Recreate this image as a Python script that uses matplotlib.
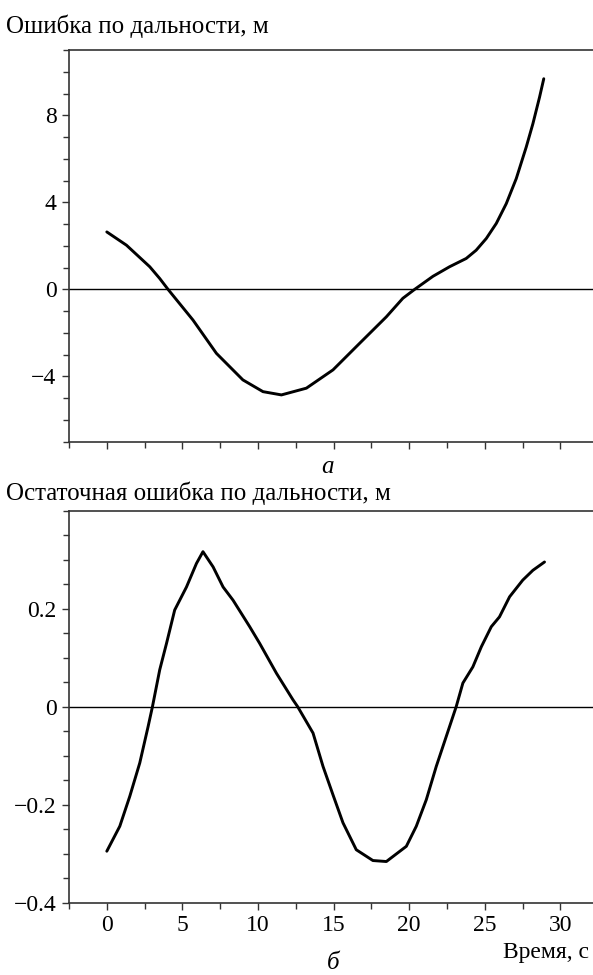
import matplotlib
matplotlib.use("Agg")
import matplotlib.pyplot as plt
from matplotlib.ticker import MultipleLocator

# Range error (top panel, "а")
t_range = [0.0, 1.30, 2.84, 3.50, 4.05, 5.70, 7.25, 9.00, 10.33, 11.55, 13.20,
           14.96, 16.72, 18.49, 19.58, 20.36, 21.57, 22.67, 23.77, 24.43, 25.10,
           25.76, 26.42, 27.08, 27.74, 28.18, 28.62, 28.90]
err_range = [2.64, 2.03, 1.04, 0.50, 0.0, -1.41, -2.94, -4.16, -4.70, -4.85, -4.54,
             -3.70, -2.48, -1.26, -0.41, 0.0, 0.60, 1.04, 1.42, 1.80, 2.34,
             3.03, 3.94, 5.09, 6.54, 7.61, 8.83, 9.68]

# Residual range error (bottom panel, "б")
t_resid = [0.0, 0.86, 1.52, 2.18, 2.73, 3.02, 3.50, 3.95, 4.49, 5.27, 5.93, 6.36,
           7.03, 7.69, 8.35, 9.45, 10.11, 11.22, 12.31, 12.62, 13.64, 14.30, 14.96,
           15.62, 16.50, 17.60, 18.49, 19.81, 20.47, 21.13, 21.79, 22.45, 23.11,
           23.55, 24.21, 24.77, 25.43, 25.97, 26.64, 27.51, 28.18, 28.95]
err_resid = [-0.295, -0.244, -0.183, -0.115, -0.041, 0.0, 0.075, 0.129, 0.197, 0.244,
             0.292, 0.316, 0.285, 0.244, 0.217, 0.163, 0.129, 0.068, 0.014, 0.0,
             -0.054, -0.122, -0.180, -0.237, -0.292, -0.314, -0.316, -0.285, -0.244,
             -0.190, -0.122, -0.061, 0.0, 0.048, 0.081, 0.122, 0.163, 0.183, 0.224,
             0.258, 0.278, 0.295]

x_ticks = [0, 5, 10, 15, 20, 25, 30]
top_yticks = [-4, 0, 4, 8]
top_ylabels = ["\u22124", "0", "4", "8"]
bot_yticks = [-0.4, -0.2, 0, 0.2]
bot_ylabels = ["\u22120.4", "\u22120.2", "0", "0.2"]

plt.rcParams['font.family'] = ['Liberation Serif', 'DejaVu Serif']
fs = 17
fs_text = 18

fig = plt.figure(figsize=(5.93, 9.75), dpi=100)
W, H = 593.0, 975.0

ax1 = fig.add_axes([69 / W, (H - 441.7) / H, 567 / W, (441.7 - 50) / H])
ax2 = fig.add_axes([69 / W, (H - 902.7) / H, 567 / W, (902.7 - 510.5) / H])

for ax in (ax1, ax2):
    ax.set_xlim(-2.5, 35)
    ax.spines['right'].set_visible(False)
    for s in ('left', 'bottom', 'top'):
        ax.spines[s].set_color('#333333')
        ax.spines[s].set_linewidth(1.2)
    ax.axhline(0, color='black', lw=1.0)
    ax.set_xticks(x_ticks)
    ax.xaxis.set_minor_locator(MultipleLocator(2.5))
    ax.tick_params(which='both', direction='out', color='#333333', width=1.0,
                   labelsize=fs, pad=4, top=False, right=False)
    ax.tick_params(which='major', length=5)
    ax.tick_params(which='minor', length=4)

ax1.plot(t_range, err_range, color='black', lw=2.1,
         solid_capstyle='round', solid_joinstyle='round')
ax1.set_ylim(-7, 11)
ax1.set_yticks(top_yticks, top_ylabels)
ax1.yaxis.set_minor_locator(MultipleLocator(1))
ax1.set_xticklabels([])

ax2.plot(t_resid, err_resid, color='black', lw=2.1,
         solid_capstyle='round', solid_joinstyle='round')
ax2.set_ylim(-0.4, 0.4)
ax2.set_yticks(bot_yticks, bot_ylabels)
ax2.yaxis.set_minor_locator(MultipleLocator(0.05))
ax2.set_xticklabels([str(v) for v in x_ticks])

fig.text(6 / W, (H - 33) / H, "Ошибка по дальности, м", fontsize=fs_text, va='baseline')
fig.text(6 / W, (H - 500) / H, "Остаточная ошибка по дальности, м", fontsize=fs_text, va='baseline')
fig.text(328 / W, (H - 467) / H, "а", fontsize=fs_text, style='italic', ha='center', va='center')
fig.text(333 / W, (H - 963) / H, "б", fontsize=fs_text, style='italic', ha='center', va='center')
fig.text(589 / W, (H - 958) / H, "Время, с", fontsize=17, ha='right', va='baseline')

fig.savefig("out.png", dpi=100)
